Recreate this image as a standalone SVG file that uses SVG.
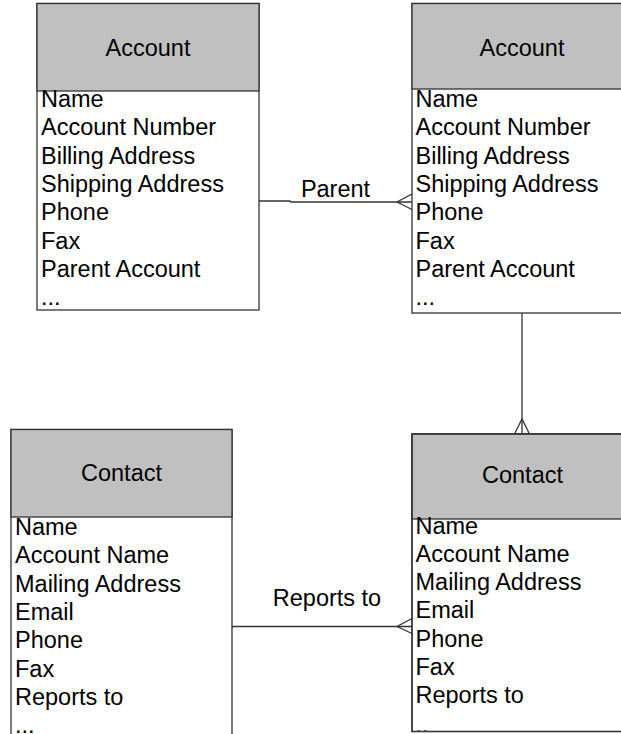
<svg xmlns="http://www.w3.org/2000/svg" width="621" height="734" viewBox="0 0 621 734">
<style>
.box{fill:#ffffff;stroke:#333333;stroke-width:1.3}
.hdr{fill:#c0c0c0;stroke:#333333;stroke-width:1.3}
.t{font-family:"Liberation Sans",Arial,sans-serif;font-size:23.5px;fill:#000000}
.h{font-family:"Liberation Sans",Arial,sans-serif;font-size:23.5px;fill:#000000;text-anchor:middle}
.c{fill:none;stroke:#333333;stroke-width:1.3}
</style>
<defs>
<clipPath id="clipC2"><rect x="412" y="434" width="220" height="297.5"/></clipPath>
</defs>
<rect x="0" y="0" width="621" height="734" fill="#ffffff"/>

<g id="account-left">
<rect class="box" x="37" y="3.5" width="222" height="306.5"/>
<rect class="hdr" x="37" y="3.5" width="222" height="87.5"/>
<text class="h" x="148" y="56">Account</text>
<text class="t" x="41" y="107">Name</text>
<text class="t" x="41" y="135.3">Account Number</text>
<text class="t" x="41" y="163.6">Billing Address</text>
<text class="t" x="41" y="191.9">Shipping Address</text>
<text class="t" x="41" y="220.2">Phone</text>
<text class="t" x="41" y="248.5">Fax</text>
<text class="t" x="41" y="276.8">Parent Account</text>
<text class="t" x="41" y="305.1">...</text>
</g>

<g id="account-right">
<rect class="box" x="412" y="3.5" width="220" height="309.5"/>
<rect class="hdr" x="412" y="3.5" width="220" height="85.5"/>
<text class="h" x="522" y="55.5">Account</text>
<text class="t" x="415.5" y="107">Name</text>
<text class="t" x="415.5" y="135.3">Account Number</text>
<text class="t" x="415.5" y="163.6">Billing Address</text>
<text class="t" x="415.5" y="191.9">Shipping Address</text>
<text class="t" x="415.5" y="220.2">Phone</text>
<text class="t" x="415.5" y="248.5">Fax</text>
<text class="t" x="415.5" y="276.8">Parent Account</text>
<text class="t" x="415.5" y="305.1">...</text>
</g>

<g id="contact-left">
<rect class="box" x="11" y="429.5" width="221" height="330"/>
<rect class="hdr" x="11" y="429.5" width="221" height="87.5"/>
<text class="h" x="121.5" y="481">Contact</text>
<text class="t" x="15" y="535">Name</text>
<text class="t" x="15" y="563.3">Account Name</text>
<text class="t" x="15" y="591.6">Mailing Address</text>
<text class="t" x="15" y="619.9">Email</text>
<text class="t" x="15" y="648.2">Phone</text>
<text class="t" x="15" y="676.5">Fax</text>
<text class="t" x="15" y="704.8">Reports to</text>
<text class="t" x="15" y="732.5">...</text>
</g>

<g id="contact-right">
<rect class="box" x="412" y="434" width="220" height="297.5"/>
<rect class="hdr" x="412" y="434" width="220" height="85"/>
<text class="h" x="522.5" y="483">Contact</text>
<g clip-path="url(#clipC2)">
<text class="t" x="415.5" y="533.5">Name</text>
<text class="t" x="415.5" y="561.8">Account Name</text>
<text class="t" x="415.5" y="590.1">Mailing Address</text>
<text class="t" x="415.5" y="618.4">Email</text>
<text class="t" x="415.5" y="646.7">Phone</text>
<text class="t" x="415.5" y="675">Fax</text>
<text class="t" x="415.5" y="703.3">Reports to</text>
<text class="t" x="415.5" y="733">..</text>
</g>
<rect x="412" y="434" width="220" height="297.5" fill="none" stroke="#333333" stroke-width="1.3"/>
</g>

<g id="connectors">
<path class="c" d="M259,201 H290 L291,202 H412"/>
<path class="c" d="M412,194 L397,202 L412,209.5"/>
<text class="h" x="335.5" y="197">Parent</text>
<path class="c" d="M522,313 V434"/>
<path class="c" d="M514.5,434 L522,419 L529.5,434"/>
<path class="c" d="M232,628 L233,626.5 H412"/>
<path class="c" d="M412,618.5 L397,626.5 L412,633.5"/>
<text class="h" x="327" y="606">Reports to</text>
</g>
</svg>
